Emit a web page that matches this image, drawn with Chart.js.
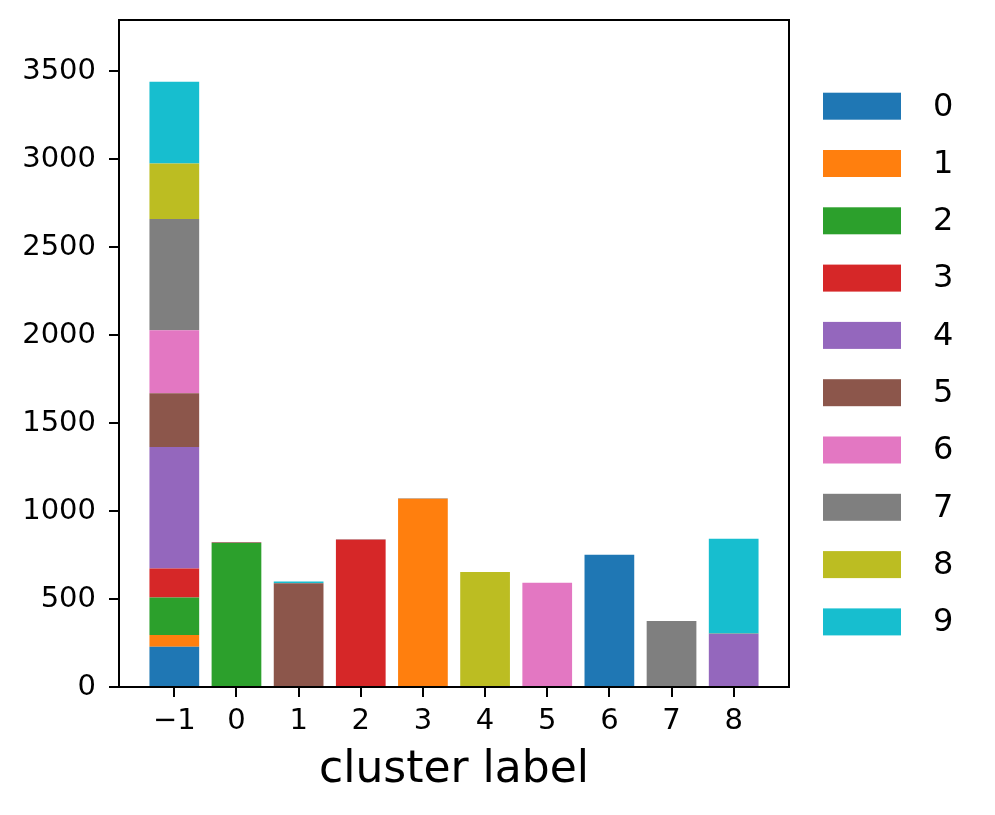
<!DOCTYPE html>
<html>
<head>
<meta charset="utf-8">
<script src="https://cdn.jsdelivr.net/npm/chart.js@4.4.1/dist/chart.umd.min.js"></script>
<style>
  html, body { margin: 0; padding: 0; background: #fff; }
  #wrap { width: 995px; height: 815px; }
</style>
</head>
<body>
<div id="wrap"><canvas id="clusterChart" width="995" height="815"></canvas></div>
<script>
// cluster labels on the x axis
const clusters = [-1, 0, 1, 2, 3, 4, 5, 6, 7, 8];
// true labels (stack order, bottom to top)
const trueLabels = ["0", "1", "2", "3", "4", "5", "6", "7", "8", "9"];
const colors = ["#1f77b4", "#ff7f0e", "#2ca02c", "#d62728", "#9467bd",
                "#8c564b", "#e377c2", "#7f7f7f", "#bcbd22", "#17becf"];

// counts per cluster for each true label
const label0 = [228, 0, 0, 0, 0, 0, 0, 751, 0, 0];
const label1 = [67, 0, 0, 0, 1069, 0, 0, 0, 0, 0];
const label2 = [214, 818, 0, 0, 0, 0, 0, 0, 0, 0];
const label3 = [165, 0, 0, 838, 0, 0, 0, 0, 0, 0];
const label4 = [690, 0, 0, 0, 0, 0, 0, 0, 0, 301];
const label5 = [305, 5, 590, 0, 0, 0, 0, 0, 0, 0];
const label6 = [358, 0, 0, 0, 0, 0, 592, 0, 0, 0];
const label7 = [632, 0, 0, 0, 4, 0, 0, 0, 375, 3];
const label8 = [316, 0, 0, 0, 0, 654, 0, 0, 0, 0];
const label9 = [464, 0, 10, 2, 0, 0, 0, 0, 0, 538];
const series = [label0, label1, label2, label3, label4, label5, label6, label7, label8, label9];

const yTicks = [0, 500, 1000, 1500, 2000, 2500, 3000, 3500];

const FONT = "'DejaVu Sans', sans-serif";

// frame around the plot + matplotlib-like legend on the right
const framePlugin = {
  id: "frame",
  afterDraw(chart) {
    const { ctx, chartArea } = chart;
    ctx.save();
    ctx.strokeStyle = "#000";
    ctx.lineWidth = 2;
    ctx.strokeRect(chartArea.left, chartArea.top,
      chartArea.right - chartArea.left, chartArea.bottom - chartArea.top);

    // legend
    const boxX = chartArea.right + 34;
    const boxW = 78, boxH = 27, step = 57.3;
    const top = chartArea.top + 72.7;
    ctx.font = "32px " + FONT;
    ctx.textBaseline = "middle";
    ctx.textAlign = "left";
    chart.data.datasets.forEach((ds, i) => {
      const y = top + i * step;
      ctx.fillStyle = ds.backgroundColor;
      ctx.fillRect(boxX, y, boxW, boxH);
      ctx.fillStyle = "#000";
      ctx.fillText(ds.label, boxX + boxW + 32, y + boxH / 2 + 1);
    });
    ctx.restore();
  }
};

const datasets = series.map((vals, i) => ({
  label: trueLabels[i],
  data: clusters.map((c, j) => ({ x: c, y: vals[j] })),
  backgroundColor: colors[i],
  borderWidth: 0,
  barPercentage: 0.8,
  categoryPercentage: 1.0
}));

const ctx = document.getElementById("clusterChart").getContext("2d");
new Chart(ctx, {
  type: "bar",
  data: { datasets },
  options: {
    responsive: false,
    animation: false,
    layout: { padding: { left: 0, top: 20, right: 206, bottom: 0 } },
    plugins: {
      legend: { display: false },
      tooltip: { enabled: false }
    },
    scales: {
      x: {
        type: "linear",
        stacked: true,
        offset: false,
        min: -1.89,
        max: 8.89,
        afterBuildTicks: (axis) => { axis.ticks = clusters.map(v => ({ value: v })); },
        afterFit: (axis) => { axis.height = 128; axis.paddingLeft = 0; axis.paddingRight = 0; },
        grid: { display: true, offset: false, drawOnChartArea: false, drawTicks: true, tickLength: 10, color: "#000", lineWidth: 2 },
        border: { display: true, color: "#000", width: 2 },
        ticks: {
          padding: 7,
          color: "#000",
          font: { family: FONT, size: 29 },
          maxRotation: 0,
          callback: (v) => (v < 0 ? "\u2212" + Math.abs(v) : String(v))
        },
        title: {
          display: true,
          text: "cluster label",
          color: "#000",
          font: { family: FONT, size: 44 },
          padding: { top: 0, bottom: 18 }
        }
      },
      y: {
        stacked: true,
        min: 0,
        max: 3790,
        afterBuildTicks: (axis) => { axis.ticks = yTicks.map(v => ({ value: v })); },
        afterFit: (axis) => { axis.width = 119; axis.paddingTop = 0; axis.paddingBottom = 0; },
        grid: { display: true, drawOnChartArea: false, drawTicks: true, tickLength: 10, color: "#000", lineWidth: 2 },
        border: { display: true, color: "#000", width: 2 },
        ticks: {
          padding: 13,
          color: "#000",
          font: { family: FONT, size: 29 },
          callback: (v) => String(v)
        }
      }
    }
  },
  plugins: [framePlugin]
});
</script>
</body>
</html>
